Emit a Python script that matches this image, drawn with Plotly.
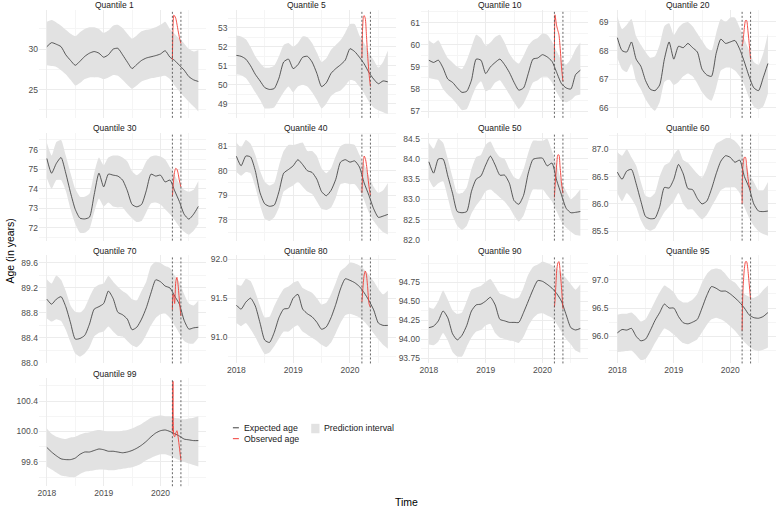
import plotly.graph_objects as go

# ---------------- data ----------------
QUANTILES = ["Quantile 1", "Quantile 5", "Quantile 10", "Quantile 20", "Quantile 30", "Quantile 40",
             "Quantile 50", "Quantile 60", "Quantile 70", "Quantile 80", "Quantile 90", "Quantile 95",
             "Quantile 99"]

T = [2018.000, 2018.083, 2018.167, 2018.250, 2018.333, 2018.417, 2018.500, 2018.583, 2018.667,
     2018.750, 2018.833, 2018.917, 2019.000, 2019.083, 2019.167, 2019.250, 2019.333, 2019.417,
     2019.500, 2019.583, 2019.667, 2019.750, 2019.833, 2019.917, 2020.000, 2020.083, 2020.167,
     2020.250, 2020.333, 2020.417, 2020.500, 2020.583, 2020.667]
RT = [2020.21, 2020.22, 2020.235, 2020.25, 2020.27, 2020.29, 2020.31, 2020.335, 2020.36]
LOCKDOWN = [2020.21, 2020.36]

EXP_Q1 = [30.3, 30.8, 30.6, 30.3, 29.3, 28.6, 28.0, 28.5, 29.1, 29.5, 29.7, 29.5, 29.0, 29.3, 30.0, 30.1, 29.3,
          28.4, 27.6, 28.1, 28.6, 28.9, 29.05, 29.2, 29.4, 29.8, 29.0, 28.6, 28.0, 27.4, 26.6, 26.2, 26.0]
LO_Q1 = [28.0, 27.9, 27.8, 27.4, 26.9, 26.2, 25.5, 25.8, 26.3, 26.5, 26.5, 26.5, 26.3, 26.5, 26.8, 26.7, 26.2,
         25.6, 25.1, 25.5, 26.0, 26.2, 26.4, 26.5, 26.6, 26.7, 26.3, 25.5, 24.8, 24.1, 23.5, 22.9, 22.3]
HI_Q1 = [33.4, 33.6, 33.3, 32.9, 32.4, 31.9, 31.6, 32.1, 32.5, 32.7, 32.7, 32.5, 32.0, 32.3, 32.9, 33.0, 32.6,
         31.9, 31.3, 31.7, 32.2, 32.4, 32.5, 32.7, 33.0, 33.4, 32.5, 31.9, 31.3, 30.7, 30.0, 29.7, 29.9]
OBS_Q1 = [28.7, 32.5, 34.2, 34.1, 33.8, 33.1, 32.3, 31.4, 30.7]

EXP_Q5 = [51.55, 51.5, 51.35, 51.0, 50.55, 50.2, 49.85, 49.75, 49.8, 50.35, 51.2, 51.35, 50.85, 51.05, 51.45,
          51.5, 51.2, 50.6, 49.9, 50.1, 50.6, 50.85, 51.05, 51.3, 51.9, 51.75, 51.45, 51.1, 50.65, 50.3,
          50.05, 50.2, 50.15]
LO_Q5 = [50.55, 50.5, 50.35, 50.0, 49.6, 49.2, 48.75, 48.75, 48.8, 49.2, 49.6, 49.9, 49.6, 49.9, 50.0, 49.9,
         49.6, 49.2, 48.75, 49.0, 49.4, 49.6, 49.7, 49.95, 50.25, 50.2, 49.9, 49.55, 49.1, 48.8, 48.65, 48.55,
         48.45]
HI_Q5 = [52.6, 52.55, 52.4, 52.0, 51.5, 51.15, 50.9, 50.9, 51.0, 51.5, 52.1, 52.2, 52.0, 52.2, 52.55, 52.5,
         52.2, 51.7, 51.2, 51.4, 51.85, 52.1, 52.35, 52.75, 53.2, 53.2, 52.6, 52.2, 51.7, 51.3, 50.9, 51.2, 51.8]
OBS_Q5 = [51.4, 52.8, 53.55, 53.65, 53.5, 52.6, 51.6, 50.6, 49.9]

EXP_Q10 = [59.3, 59.2, 59.3, 58.95, 58.45, 58.3, 58.05, 57.85, 57.9, 58.4, 59.35, 59.3, 58.7, 59.0, 59.2, 59.35,
           59.1, 58.75, 58.3, 57.95, 58.05, 58.7, 59.35, 59.4, 59.55, 59.45, 59.25, 58.75, 58.25, 58.05, 58.0,
           58.65, 58.85]
LO_Q10 = [58.5, 58.45, 58.4, 58.0, 57.75, 57.55, 57.3, 57.05, 57.1, 57.6, 58.1, 58.35, 57.9, 58.0, 58.3, 58.4,
          58.1, 57.75, 57.4, 57.1, 57.35, 57.8, 58.3, 58.4, 58.55, 58.55, 58.3, 57.85, 57.5, 57.4, 57.5, 57.7,
          57.75]
HI_Q10 = [60.2, 60.05, 60.2, 59.8, 59.4, 59.2, 59.0, 58.9, 59.3, 59.9, 60.45, 60.3, 59.95, 60.1, 60.35, 60.45,
          60.1, 59.6, 59.3, 59.15, 59.5, 59.95, 60.2, 60.3, 60.5, 60.45, 60.15, 59.7, 59.3, 59.1, 59.35, 59.8,
          60.1]
OBS_Q10 = [59.3, 61.35, 61.1, 60.85, 60.65, 60.45, 59.9, 59.0, 58.35]

EXP_Q20 = [68.45, 68.0, 67.95, 68.3, 67.7, 67.45, 66.95, 66.65, 66.6, 66.8, 67.7, 68.3, 67.7, 68.15, 68.1,
           68.25, 68.1, 67.95, 67.35, 67.15, 67.1, 67.9, 68.4, 68.25, 68.3, 68.35, 68.05, 67.6, 67.1, 66.7,
           66.6, 67.05, 67.55]
LO_Q20 = [67.75, 67.35, 67.25, 67.55, 66.95, 66.65, 66.3, 66.05, 65.9, 66.2, 66.9, 67.0, 66.8, 66.9, 67.1,
          67.2, 67.1, 66.85, 66.55, 66.35, 66.25, 66.7, 67.3, 67.4, 67.4, 67.3, 67.1, 66.8, 66.35, 66.05, 65.95,
          66.05, 66.5]
HI_Q20 = [69.2, 68.75, 68.9, 69.1, 68.5, 68.2, 67.95, 67.75, 67.8, 68.2, 68.85, 68.95, 68.55, 68.8, 68.95,
          69.0, 68.85, 68.6, 68.35, 68.1, 68.0, 68.6, 69.1, 69.0, 69.15, 69.15, 68.8, 68.4, 68.0, 67.6, 67.5,
          67.9, 68.6]
OBS_Q20 = [68.15, 68.25, 68.5, 68.8, 69.05, 69.05, 68.75, 68.25, 67.7]

EXP_Q30 = [75.55, 74.8, 75.3, 75.6, 74.8, 73.8, 72.95, 72.5, 72.46, 72.55, 73.7, 74.8, 74.1, 74.75, 74.7,
           74.65, 74.45, 73.9, 73.2, 73.08, 73.2, 73.9, 74.75, 74.65, 74.7, 74.35, 74.45, 73.9, 73.35, 72.7,
           72.45, 72.7, 73.1]
LO_Q30 = [74.55, 74.0, 74.45, 74.45, 73.9, 72.95, 72.2, 71.75, 71.75, 71.95, 72.8, 73.5, 73.1, 73.3, 73.1,
          73.05, 73.05, 72.75, 72.5, 72.3, 72.35, 72.8, 73.25, 73.3, 73.2, 72.95, 72.7, 72.4, 72.05, 71.8, 71.65,
          71.85, 72.2]
HI_Q30 = [76.35, 75.7, 76.4, 76.5, 75.7, 74.8, 74.0, 73.6, 73.6, 73.75, 74.8, 75.6, 75.2, 75.6, 75.7, 75.7,
          75.6, 75.4, 74.9, 74.7, 74.9, 75.4, 75.65, 75.7, 75.65, 75.5, 75.1, 74.7, 74.25, 73.95, 73.85, 73.95,
          74.4]
OBS_Q30 = [73.6, 74.05, 74.55, 74.9, 75.05, 75.0, 74.8, 74.4, 74.1]

EXP_Q40 = [80.59, 80.2, 80.6, 80.56, 80.0, 79.1, 78.65, 78.55, 78.6, 79.15, 79.9, 80.05, 80.2, 80.45, 80.25,
           80.0, 79.93, 79.65, 79.15, 78.98, 79.2, 79.65, 80.35, 80.45, 80.35, 80.4, 80.15, 79.5, 79.0, 78.45,
           78.1, 78.15, 78.22]
LO_Q40 = [79.95, 79.8, 79.95, 79.9, 79.35, 78.6, 78.05, 77.95, 78.1, 78.5, 79.15, 79.3, 79.4, 79.55, 79.35,
          79.15, 79.05, 78.75, 78.45, 78.4, 78.5, 78.9, 79.45, 79.5, 79.45, 79.45, 79.2, 78.8, 78.3, 77.95, 77.7,
          77.5, 77.4]
HI_Q40 = [81.15, 80.95, 81.25, 81.1, 80.65, 80.0, 79.55, 79.4, 79.5, 80.2, 80.8, 81.05, 81.05, 81.1, 81.15,
          80.8, 80.8, 80.6, 80.1, 79.9, 80.1, 80.6, 81.0, 81.1, 81.1, 81.05, 80.65, 80.25, 79.8, 79.35, 79.1,
          79.2, 79.5]
OBS_Q40 = [79.1, 79.7, 80.35, 80.6, 80.5, 80.25, 79.85, 79.35, 79.0]

EXP_Q50 = [83.93, 83.65, 84.0, 84.0, 83.58, 83.15, 82.7, 82.67, 82.7, 83.2, 83.5, 83.58, 83.85, 84.07, 83.85,
           83.6, 83.6, 83.4, 82.97, 82.88, 83.1, 83.65, 83.99, 84.02, 84.02, 83.83, 83.9, 83.47, 83.12, 82.78,
           82.67, 82.68, 82.7]
LO_Q50 = [83.5, 83.3, 83.4, 83.45, 83.05, 82.6, 82.35, 82.25, 82.35, 82.65, 82.85, 83.0, 83.2, 83.25, 83.15,
          83.05, 82.95, 82.8, 82.6, 82.45, 82.6, 82.95, 83.25, 83.25, 83.25, 83.1, 82.95, 82.7, 82.45, 82.3,
          82.2, 82.12, 82.1]
HI_Q50 = [84.4, 84.25, 84.5, 84.4, 84.0, 83.55, 83.15, 83.15, 83.3, 83.75, 84.05, 84.1, 84.35, 84.43, 84.2,
          84.05, 84.0, 83.75, 83.55, 83.5, 83.75, 84.15, 84.45, 84.45, 84.45, 84.5, 84.2, 83.85, 83.45, 83.2,
          83.0, 83.1, 83.25]
OBS_Q50 = [83.05, 83.3, 83.6, 83.85, 84.1, 84.1, 83.8, 83.4, 83.15]

EXP_Q60 = [86.58, 86.45, 86.6, 86.63, 86.37, 86.05, 85.77, 85.73, 85.74, 85.95, 86.3, 86.29, 86.45, 86.72,
           86.55, 86.28, 86.26, 86.1, 86.0, 86.05, 86.27, 86.55, 86.78, 86.88, 86.85, 86.76, 86.8, 86.5, 86.3,
           86.0, 85.87, 85.86, 85.87]
LO_Q60 = [86.2, 86.05, 86.2, 86.1, 85.95, 85.7, 85.55, 85.51, 85.55, 85.7, 85.85, 85.95, 86.05, 86.2, 86.0,
          85.9, 85.9, 85.8, 85.72, 85.8, 85.95, 86.1, 86.25, 86.3, 86.3, 86.3, 86.2, 85.95, 85.75, 85.6, 85.5,
          85.45, 85.42]
HI_Q60 = [86.95, 86.88, 87.0, 86.85, 86.7, 86.4, 86.15, 86.12, 86.2, 86.5, 86.7, 86.75, 86.9, 87.0, 86.8,
          86.75, 86.65, 86.55, 86.48, 86.65, 86.9, 87.1, 87.15, 87.2, 87.2, 87.15, 87.05, 86.8, 86.55, 86.4,
          86.25, 86.25, 86.4]
OBS_Q60 = [86.0, 86.65, 86.78, 86.85, 86.85, 86.7, 86.5, 86.33, 86.25]

EXP_Q70 = [89.02, 88.94, 89.02, 89.06, 88.9, 88.64, 88.38, 88.39, 88.44, 88.62, 88.86, 88.9, 88.95, 89.15,
           89.03, 88.81, 88.77, 88.7, 88.53, 88.57, 88.7, 88.88, 89.12, 89.33, 89.3, 89.23, 89.2, 89.07, 88.94,
           88.68, 88.54, 88.56, 88.57]
LO_Q70 = [88.71, 88.66, 88.7, 88.67, 88.53, 88.33, 88.15, 88.1, 88.15, 88.25, 88.42, 88.48, 88.5, 88.58,
          88.5, 88.43, 88.42, 88.35, 88.28, 88.25, 88.32, 88.45, 88.6, 88.72, 88.78, 88.79, 88.72, 88.6, 88.47,
          88.35, 88.31, 88.31, 88.4]
HI_Q70 = [89.34, 89.27, 89.4, 89.33, 89.15, 88.92, 88.82, 88.8, 88.88, 89.05, 89.2, 89.25, 89.27, 89.39,
          89.3, 89.22, 89.15, 89.1, 89.02, 89.0, 89.15, 89.3, 89.55, 89.62, 89.6, 89.55, 89.52, 89.4, 89.3,
          89.1, 88.95, 88.92, 89.0]
OBS_Q70 = [88.85, 89.1, 89.05, 88.95, 89.3, 89.37, 89.25, 88.98, 88.75]

EXP_Q80 = [91.41, 91.36, 91.45, 91.5, 91.4, 91.18, 90.96, 90.93, 91.06, 91.25, 91.36, 91.37, 91.5, 91.55,
           91.36, 91.3, 91.26, 91.19, 91.1, 91.13, 91.25, 91.42, 91.62, 91.75, 91.73, 91.7, 91.65, 91.57, 91.47,
           91.35, 91.18, 91.15, 91.15]
LO_Q80 = [91.18, 91.14, 91.18, 91.1, 91.0, 90.88, 90.78, 90.8, 90.88, 90.98, 91.07, 91.07, 91.12, 91.15,
          91.07, 91.03, 90.99, 90.95, 90.9, 90.87, 90.93, 91.05, 91.18, 91.28, 91.3, 91.28, 91.25, 91.2, 91.13,
          91.05, 90.97, 90.9, 90.85]
HI_Q80 = [91.68, 91.66, 91.75, 91.72, 91.58, 91.4, 91.25, 91.26, 91.4, 91.52, 91.62, 91.65, 91.7, 91.72,
          91.63, 91.6, 91.57, 91.5, 91.42, 91.44, 91.55, 91.7, 91.85, 91.9, 91.96, 91.95, 91.92, 91.87, 91.8,
          91.72, 91.62, 91.55, 91.6]
OBS_Q80 = [91.45, 91.55, 91.7, 91.8, 91.85, 91.8, 91.65, 91.43, 91.38]

EXP_Q90 = [94.15, 94.17, 94.24, 94.37, 94.28, 94.07, 93.99, 94.05, 94.18, 94.37, 94.45, 94.46, 94.5, 94.55,
           94.45, 94.26, 94.24, 94.22, 94.22, 94.22, 94.35, 94.5, 94.65, 94.77, 94.76, 94.72, 94.67, 94.6,
           94.5, 94.32, 94.15, 94.12, 94.14]
LO_Q90 = [93.93, 93.92, 93.97, 94.08, 93.98, 93.83, 93.77, 93.77, 93.9, 94.02, 94.1, 94.12, 94.18, 94.2,
          94.08, 94.02, 94.0, 93.98, 93.97, 93.95, 94.03, 94.17, 94.27, 94.33, 94.34, 94.31, 94.28, 94.2, 94.1,
          94.0, 93.93, 93.85, 93.82]
HI_Q90 = [94.42, 94.4, 94.5, 94.64, 94.52, 94.38, 94.33, 94.35, 94.5, 94.65, 94.68, 94.7, 94.75, 94.79,
          94.7, 94.6, 94.58, 94.55, 94.53, 94.55, 94.68, 94.85, 94.95, 94.98, 95.02, 95.0, 94.97, 94.93, 94.87,
          94.8, 94.72, 94.65, 94.72]
OBS_Q90 = [94.42, 94.5, 94.7, 94.9, 95.0, 95.02, 94.9, 94.68, 94.4]

EXP_Q95 = [96.06, 96.12, 96.11, 96.14, 96.0, 95.92, 95.95, 96.1, 96.28, 96.42, 96.57, 96.5, 96.5, 96.35,
           96.24, 96.22, 96.25, 96.3, 96.5, 96.72, 96.88, 96.85, 96.8, 96.8, 96.75, 96.68, 96.6, 96.5, 96.38,
           96.33, 96.32, 96.35, 96.42]
LO_Q95 = [95.72, 95.73, 95.74, 95.75, 95.67, 95.58, 95.6, 95.72, 95.88, 96.02, 96.14, 96.1, 96.03, 95.95,
          95.88, 95.86, 95.9, 95.95, 96.07, 96.2, 96.3, 96.33, 96.3, 96.25, 96.18, 96.1, 96.0, 95.9, 95.82,
          95.76, 95.74, 95.76, 95.8]
HI_Q95 = [96.38, 96.4, 96.4, 96.42, 96.35, 96.26, 96.3, 96.45, 96.62, 96.78, 96.9, 96.85, 96.78, 96.65,
          96.6, 96.6, 96.65, 96.75, 96.95, 97.1, 97.18, 97.2, 97.18, 97.1, 97.0, 96.95, 96.85, 96.75, 96.7,
          96.68, 96.72, 96.82, 96.9]
OBS_Q95 = [96.1, 96.7, 97.0, 97.2, 97.32, 97.32, 97.2, 96.93, 96.65]

EXP_Q99 = [99.79, 99.73, 99.68, 99.64, 99.63, 99.63, 99.65, 99.7, 99.73, 99.73, 99.75, 99.77, 99.76, 99.74,
           99.74, 99.73, 99.72, 99.73, 99.75, 99.78, 99.82, 99.87, 99.93, 99.98, 100.01, 100.02, 100.0, 99.97,
           99.94, 99.9, 99.89, 99.88, 99.88]
LO_Q99 = [99.54, 99.5, 99.46, 99.42, 99.41, 99.4, 99.4, 99.44, 99.47, 99.48, 99.49, 99.5, 99.5, 99.49, 99.49,
          99.5, 99.51, 99.52, 99.53, 99.55, 99.58, 99.62, 99.65, 99.68, 99.7, 99.7, 99.68, 99.65, 99.62, 99.6,
          99.58, 99.56, 99.54]
HI_Q99 = [100.04, 99.97, 99.93, 99.91, 99.9, 99.92, 99.93, 99.96, 99.98, 99.99, 100.01, 100.02, 100.01, 100.0,
          100.0, 100.0, 100.01, 100.02, 100.04, 100.07, 100.1, 100.14, 100.18, 100.2, 100.21, 100.2, 100.2,
          100.18, 100.17, 100.16, 100.17, 100.18, 100.2]
OBS_Q99 = [100.0, 100.66, 99.95, 99.93, 99.98, 100.01, 99.93, 99.78, 99.62]

EXPECTED = [EXP_Q1, EXP_Q5, EXP_Q10, EXP_Q20, EXP_Q30, EXP_Q40, EXP_Q50, EXP_Q60, EXP_Q70, EXP_Q80,
            EXP_Q90, EXP_Q95, EXP_Q99]
LOWER = [LO_Q1, LO_Q5, LO_Q10, LO_Q20, LO_Q30, LO_Q40, LO_Q50, LO_Q60, LO_Q70, LO_Q80, LO_Q90, LO_Q95, LO_Q99]
UPPER = [HI_Q1, HI_Q5, HI_Q10, HI_Q20, HI_Q30, HI_Q40, HI_Q50, HI_Q60, HI_Q70, HI_Q80, HI_Q90, HI_Q95, HI_Q99]
OBSERVED = [OBS_Q1, OBS_Q5, OBS_Q10, OBS_Q20, OBS_Q30, OBS_Q40, OBS_Q50, OBS_Q60, OBS_Q70, OBS_Q80,
            OBS_Q90, OBS_Q95, OBS_Q99]

X_TICKS = [2018, 2019, 2020]
Y_TICKS = [
    [25, 30], [49, 50, 51, 52, 53], [57, 58, 59, 60, 61], [66, 67, 68, 69], [72, 73, 74, 75, 76],
    [78, 79, 80, 81], [82.0, 82.5, 83.0, 83.5, 84.0, 84.5], [85.5, 86.0, 86.5, 87.0],
    [88.0, 88.4, 88.8, 89.2, 89.6], [91.0, 91.5, 92.0], [93.75, 94.00, 94.25, 94.50, 94.75],
    [96.0, 96.5, 97.0], [99.6, 100.0, 100.4]]
Y_FMT = ["{:.0f}"] * 6 + ["{:.1f}"] * 4 + ["{:.2f}", "{:.1f}", "{:.1f}"]

# ---------------- layout / style ----------------
W, H = 777, 512
FONT = "Liberation Sans, Arial, sans-serif"
BAND = "#e2e2e2"
RED = "#f23c36"
LINE = "#2a2a2a"
GRID = "#ececec"
GRID_MINOR = "#f5f5f5"

COLS = [(37, 205), (227, 395), (420, 588), (609, 776)]
ROWS = [(9, 118), (133, 242), (257, 366), (381, 490)]
TITLE_X = [113, 305, 499, 688]
Y_RANGES = [[21.5, 34.85], [48.25, 53.95], [56.7, 61.57], [65.65, 69.42], [71.35, 76.87],
            [77.15, 81.55], [81.98, 84.65], [85.33, 87.3], [87.99, 89.72], [90.66, 92.05],
            [93.68, 95.1], [95.52, 97.43], [99.28, 100.70]]
X_RANGE = [2017.86, 2020.81]
SHOW_X_LABELS = [False] * 9 + [True] * 4


def fx(p):
    return p / W


def fy(p):
    return 1 - p / H


fig = go.Figure()
layout = {}
shapes = []
annotations = []

for k, name in enumerate(QUANTILES):
    r, c = divmod(k, 4)
    n = "" if k == 0 else str(k + 1)
    xa, ya = "x" + n, "y" + n
    x0, x1 = COLS[c]
    y0, y1 = ROWS[r]

    fig.add_trace(go.Scatter(x=T, y=LOWER[k], xaxis=xa, yaxis=ya, mode="lines",
                             line=dict(width=0, color=BAND, shape="spline", smoothing=0.5),
                             hoverinfo="skip", showlegend=False))
    fig.add_trace(go.Scatter(x=T, y=UPPER[k], xaxis=xa, yaxis=ya, mode="lines", fill="tonexty",
                             fillcolor=BAND, line=dict(width=0, color=BAND, shape="spline", smoothing=0.5),
                             name="Prediction interval", showlegend=False))
    fig.add_trace(go.Scatter(x=T, y=EXPECTED[k], xaxis=xa, yaxis=ya, mode="lines",
                             line=dict(width=0.75, color=LINE, shape="spline", smoothing=0.6),
                             name="Expected age", showlegend=False))
    fig.add_trace(go.Scatter(x=RT, y=OBSERVED[k], xaxis=xa, yaxis=ya, mode="lines",
                             line=dict(width=0.9, color=RED, shape="spline", smoothing=0.6),
                             name="Observed age", showlegend=False))

    dy = Y_TICKS[k][1] - Y_TICKS[k][0]
    layout["xaxis" + n] = dict(
        domain=[fx(x0), fx(x1)], anchor=ya, range=X_RANGE,
        tickvals=X_TICKS, ticktext=[str(v) for v in X_TICKS], showticklabels=SHOW_X_LABELS[k],
        tickfont=dict(size=8.5, color="#4d4d4d", family=FONT), ticks="",
        showgrid=True, gridcolor=GRID, gridwidth=1, zeroline=False, showline=False,
        minor=dict(dtick=0.5, tick0=2018, showgrid=True, gridcolor=GRID_MINOR, gridwidth=0.6))
    layout["yaxis" + n] = dict(
        domain=[fy(y1), fy(y0)], anchor=xa, range=Y_RANGES[k],
        tickvals=Y_TICKS[k], ticktext=[Y_FMT[k].format(v) for v in Y_TICKS[k]],
        tickfont=dict(size=8.5, color="#4d4d4d", family=FONT), ticks="",
        showgrid=True, gridcolor=GRID, gridwidth=1, zeroline=False, showline=False,
        minor=dict(dtick=dy / 2, tick0=Y_TICKS[k][0], showgrid=True, gridcolor=GRID_MINOR, gridwidth=0.6))

    for t in LOCKDOWN:
        shapes.append(dict(type="line", xref=xa, yref=ya + " domain", x0=t, x1=t, y0=0, y1=1,
                           line=dict(color="#555555", width=0.9, dash="2px,2px"), layer="above"))

    annotations.append(dict(text=name, x=fx(TITLE_X[c]), y=fy(y0 - 4.5), xref="paper", yref="paper",
                            showarrow=False, xanchor="center", yanchor="middle",
                            font=dict(size=8.5, color="#1a1a1a", family=FONT)))

# axis titles
annotations.append(dict(text="Time", x=fx(406), y=fy(506), xref="paper", yref="paper", showarrow=False,
                        xanchor="center", yanchor="middle", font=dict(size=10.5, color="#000000", family=FONT)))
annotations.append(dict(text="Age (in years)", x=fx(8), y=fy(252), xref="paper", yref="paper",
                        showarrow=False, textangle=-90, xanchor="center", yanchor="middle",
                        font=dict(size=10.5, color="#000000", family=FONT)))

# legend (drawn manually, ggplot-style)
shapes.append(dict(type="line", xref="paper", yref="paper", x0=fx(231.5), x1=fx(237.5), y0=fy(431),
                   y1=fy(431), line=dict(color=LINE, width=0.9)))
shapes.append(dict(type="line", xref="paper", yref="paper", x0=fx(231.5), x1=fx(237.5), y0=fy(442),
                   y1=fy(442), line=dict(color=RED, width=1)))
shapes.append(dict(type="rect", xref="paper", yref="paper", x0=fx(310), x1=fx(318.3), y0=fy(436.5),
                   y1=fy(427), line=dict(width=0), fillcolor=BAND))
for txt, xx, yy in [("Expected age", 240.5, 431), ("Observed age", 240.5, 442),
                    ("Prediction interval", 320.7, 431.5)]:
    annotations.append(dict(text=txt, x=fx(xx), y=fy(yy), xref="paper", yref="paper", showarrow=False,
                            xanchor="left", yanchor="middle", font=dict(size=8.8, color="#1a1a1a", family=FONT)))

fig.update_layout(
    width=W, height=H, margin=dict(l=0, r=0, t=0, b=0),
    paper_bgcolor="white", plot_bgcolor="white",
    font=dict(family=FONT), showlegend=False,
    shapes=shapes, annotations=annotations, **layout)

fig.write_html("out.html")
